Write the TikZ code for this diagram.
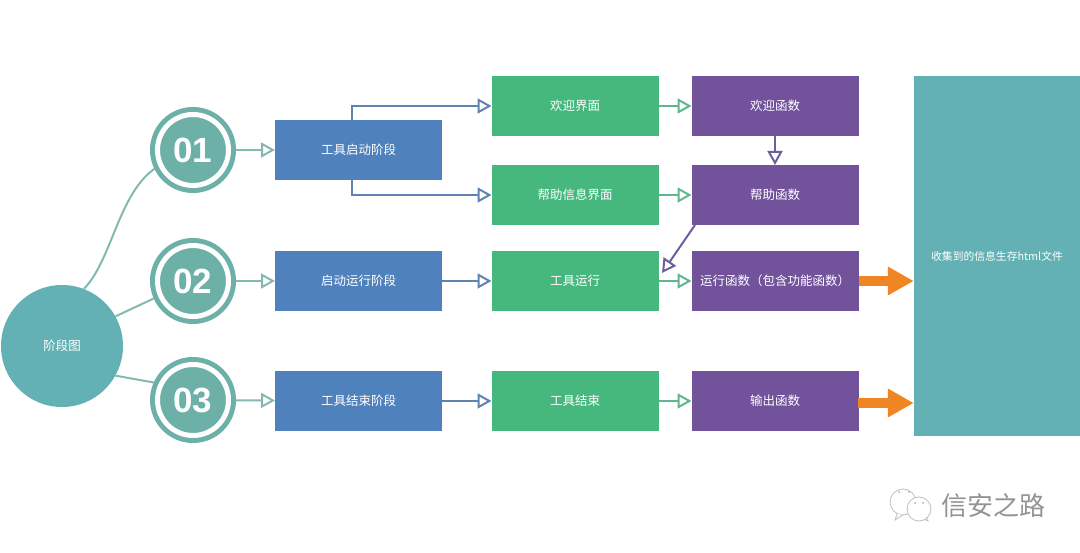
\documentclass[tikz,border=0pt]{standalone}
\usepackage{fontspec}
\usetikzlibrary{arrows.meta}
\newfontfamily\cjk{Noto Sans CJK SC}
\newfontfamily\numfont{Liberation Sans}
\definecolor{tealbig}{HTML}{63B1B4}
\definecolor{tealring}{HTML}{6CB0A8}
\definecolor{tealline}{HTML}{84B9B1}
\definecolor{boxblue}{HTML}{4F81BD}
\definecolor{boxgreen}{HTML}{46B77D}
\definecolor{boxpurple}{HTML}{71529B}
\definecolor{lineblue}{HTML}{5F84B0}
\definecolor{linegreen}{HTML}{62B68E}
\definecolor{linepurple}{HTML}{6C5F9C}
\definecolor{arroworange}{HTML}{EF8523}
\tikzset{
    label text/.style={text=white, font=\cjk\fontsize{12.5}{15}\selectfont, inner sep=0pt},
    stage box/.style={label text, minimum width=167, minimum height=60, outer sep=0pt},
    ring/.style={circle, minimum size=71, outer sep=7.5, inner sep=0pt, fill=tealring, draw=tealring,
        line width=5, double=white, double distance=5, text=white,
        font=\numfont\bfseries\fontsize{35}{40}\selectfont},
    open tip/.style={-{Triangle[open, length=14, width=15, line width=2]}, line width=2},
    big tip/.style={-{Triangle[length=26, width=27]}, line width=10, arroworange},
}
\begin{document}
\begin{tikzpicture}[x=1pt, y=-1pt]
    \useasboundingbox (0,0) rectangle (1080,553);
    % Left circle
    \node[label text, circle, fill=tealbig, minimum size=122] (Phase) at (62,346) {阶段图};
    % Numbered rings
    \foreach \name/\y/\i in {01/150/1,02/281/2,03/400/3} {
        \node[ring] (Ring-\i) at (193,\y) {\name};
    }
    % Blue boxes
    \foreach \name/\y/\i in {工具启动阶段/150/1,启动运行阶段/281/2,工具结束阶段/401/3} {
        \node[stage box, fill=boxblue] (Tool-\i) at (358.5,\y) {\name};
    }
    % Green boxes
    \foreach \name/\y/\i in {欢迎界面/106/1,帮助信息界面/195/2,工具运行/281/3,工具结束/401/4} {
        \node[stage box, fill=boxgreen] (View-\i) at (575,\y) {\name};
    }
    % Purple boxes
    \foreach \name/\y/\i in {欢迎函数/106/1,帮助函数/195/2,运行函数（包含功能函数）/281/3,输出函数/401/4} {
        \node[stage box, fill=boxpurple] (Func-\i) at (775,\y) {\name};
    }
    % Result box
    \node[label text, fill=tealbig, minimum width=166, minimum height=360, font=\cjk\fontsize{10.8}{12}\selectfont] (Store) at (997,256) {收集到的信息生存html文件};
    % Lines from the left circle
    \draw[tealline, line width=2] (Phase.69) .. controls (112,260) and (118,195) .. (Ring-1.206);
    \draw[tealline, line width=2] (Phase.29) -- (Ring-2.204);
    \draw[tealline, line width=2] (Phase.-29) -- (Ring-3.156);
    % Arrows
    \foreach \i in {1,2,3} {
        \draw[open tip, tealline] (Ring-\i) -- (Tool-\i);
    }
    \coordinate (Up) at (352,120);
    \coordinate (Down) at (352,180);
    \draw[open tip, lineblue] (Up) |- (View-1.west);
    \draw[open tip, lineblue] (Down) |- (View-2.west);
    \draw[open tip, lineblue] (Tool-2) -- (View-3);
    \draw[open tip, lineblue] (Tool-3) -- (View-4);
    \foreach \i in {1,2,3,4} {
        \draw[open tip, linegreen] (View-\i) -- (Func-\i);
    }
    \draw[open tip, linepurple] (Func-1) -- (Func-2);
    \coordinate (Start) at (695,225);
    \coordinate (End) at (662,273);
    \draw[open tip, linepurple] (Start) -- (End);
    \coordinate (Out) at (858,403);
    \draw[big tip] (Func-3.east) -- (Func-3.east -| Store.west);
    \draw[big tip] (Out) -- (Out -| Store.west);
    % Watermark
    \draw[gray!50, fill=white, line width=0.8] (903,502) circle (13);
    \draw[gray!50, fill=white, line width=0.8] (897,514) -- (895,520) -- (903,515);
    \draw[gray!50, fill=white, line width=0.8] (919,509) circle (12);
    \draw[gray!50, fill=white, line width=0.8] (924,519) -- (928,521) -- (926,517);
    \fill[gray!60] (899,492) circle (1) (909,492) circle (1) (915,503) circle (1) (923,503) circle (1);
    \node[text=gray!85, font=\cjk\fontsize{26}{30}\selectfont, inner sep=0pt] (Mark) at (993,506) {信安之路};
\end{tikzpicture}
\end{document}
